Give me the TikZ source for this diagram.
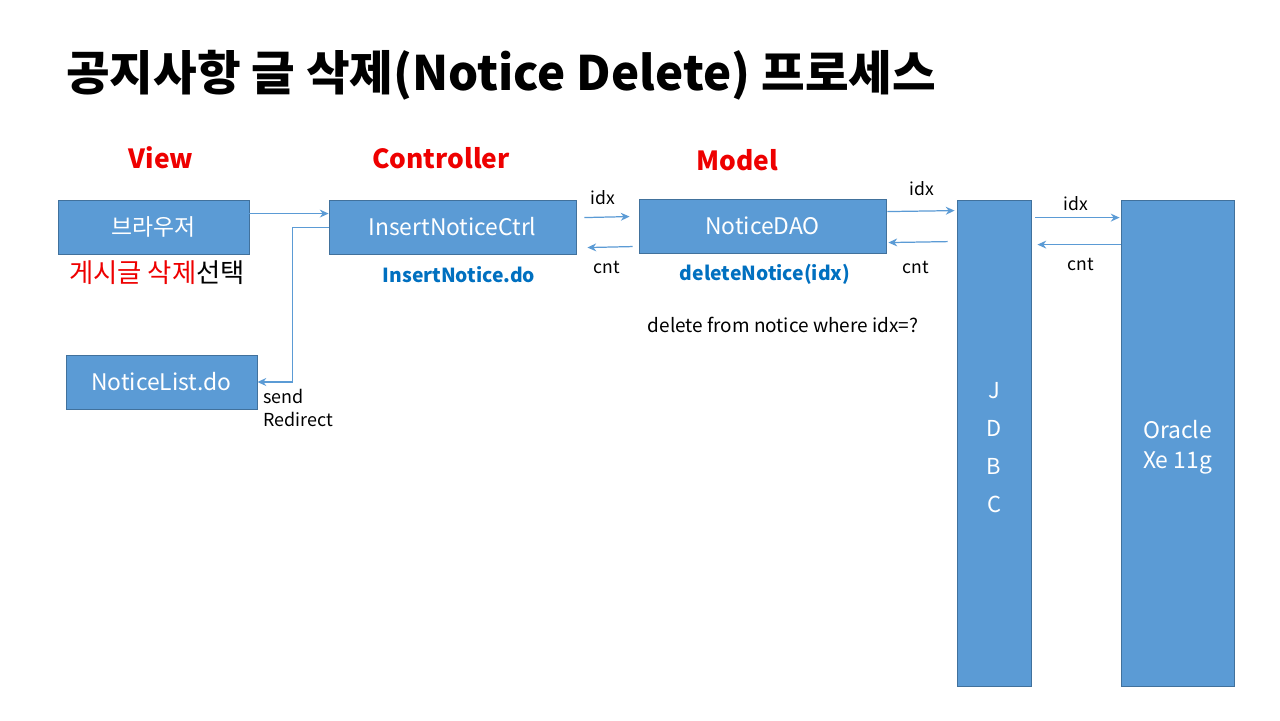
\documentclass[tikz,border=0pt]{standalone}
\usepackage{fontspec}
\setmainfont{Noto Sans CJK KR}
\usetikzlibrary{arrows.meta,calc}
\definecolor{boxfill}{HTML}{5B9BD5}
\definecolor{boxline}{HTML}{41719C}
\definecolor{hdred}{HTML}{EE0000}
\definecolor{fnblue}{HTML}{0070C0}
\begin{document}
\begin{tikzpicture}[x=0.02cm,y=-0.02cm,
  box/.style={draw=boxline,line width=0.5pt,fill=boxfill,text=white,inner sep=0pt,
    font=\fontsize{13}{15}\selectfont},
  arr/.style={draw=boxfill,line width=0.7pt,-{Stealth[length=5pt,width=4.5pt]}},
  lbl/.style={font=\fontsize{10}{12}\selectfont,inner sep=0pt},
  hdr/.style={font=\fontsize{15}{18}\selectfont\bfseries,text=hdred,inner sep=0pt},
  fn/.style={font=\fontsize{11}{13}\selectfont\bfseries,text=fnblue,inner sep=0pt}]
\useasboundingbox[fill=white] (0,0) rectangle (1280,720);

% title
\node[anchor=west,inner sep=0pt,font=\fontsize{27}{32}\selectfont\bfseries] (title) at (66,75)
  {공지사항 글 삭제(Notice Delete) 프로세스};

% layer headings
\node[hdr] (hview) at (161,158) {View};
\node[hdr] (hctrl) at (441,158) {Controller};
\node[hdr] (hmodel) at (737,160) {Model};

% boxes
\node[box,minimum width=3.82cm,minimum height=1.08cm] (brw) at (153.5,227) {브라우저};
\node[box,minimum width=4.94cm,minimum height=1.08cm] (ctrl) at (452.5,227) {InsertNoticeCtrl};
\node[box,minimum width=4.94cm,minimum height=1.08cm] (dao) at (762.5,226) {NoticeDAO};
\node[box,minimum width=3.82cm,minimum height=1.08cm] (nlist) at (161.5,382) {NoticeList.do};
\node[box,minimum width=1.48cm,minimum height=9.72cm] (jdbc) at (994,443) {};
\node[box,minimum width=2.26cm,minimum height=9.72cm] (ora) at (1177.5,443) {};
\node[align=center,text=white,inner sep=0pt,font=\fontsize{12.5}{21.5}\selectfont]
  (jdbctxt) at ([yshift=-0.09cm]jdbc.center) {J\\D\\B\\C};
\node[align=center,text=white,inner sep=0pt,font=\fontsize{13}{17}\selectfont]
  (oratxt) at ([yshift=-0.08cm]ora.center) {Oracle\\Xe 11g};

% captions under boxes
\node[inner sep=0pt,font=\fontsize{15}{18}\selectfont] (sel) at (157,273)
  {\textcolor{hdred}{게시글 삭제}선택};
\node[fn] (fdo) at (459,275) {InsertNotice.do};
\node[fn] (fdel) at (765,274) {deleteNotice(idx)};
\node[inner sep=0pt,font=\fontsize{10.8}{13}\selectfont] (sql) at (783,325) {delete from notice where idx=?};

% request / response arrows
\draw[arr] ([yshift=-0.28cm]brw.north east) -- ([yshift=-0.28cm]ctrl.north west);
\draw[arr] ([yshift=-0.56cm]ctrl.north west) -- ++(-0.72cm,0) |- (nlist.east);

\draw[arr] ([xshift=0.16cm,yshift=-0.36cm]ctrl.north east) -- ([xshift=-0.18cm,yshift=-0.36cm]dao.north west);
\draw[arr] ([xshift=-0.12cm,yshift=-0.96cm]dao.north west) -- ([xshift=0.22cm,yshift=-0.96cm]ctrl.north east);

\draw[arr] ([xshift=0.02cm,yshift=-0.26cm]dao.north east) -- ([xshift=-0.04cm,yshift=-0.22cm]jdbc.north west);
\draw[arr] ([xshift=-0.18cm,yshift=-0.84cm]jdbc.north west) -- ([xshift=0.04cm,yshift=-0.88cm]dao.north east);

\draw[arr] ([xshift=0.08cm,yshift=-0.36cm]jdbc.north east) -- ([xshift=-0.02cm,yshift=-0.36cm]ora.north west);
\draw[arr] ([yshift=-0.9cm]ora.north west) -- ([xshift=0.12cm,yshift=-0.9cm]jdbc.north east);

% arrow labels
\node[lbl] (l1) at (603,198) {idx};
\node[lbl] (l2) at (607,267) {cnt};
\node[lbl] (l3) at (922,189) {idx};
\node[lbl] (l4) at (916,267) {cnt};
\node[lbl] (l5) at (1076,204) {idx};
\node[lbl] (l6) at (1081,264) {cnt};
\node[lbl,anchor=north west,align=left,font=\fontsize{10.2}{13}\selectfont] (redir) at (263,389) {send\\Redirect};
\end{tikzpicture}
\end{document}
